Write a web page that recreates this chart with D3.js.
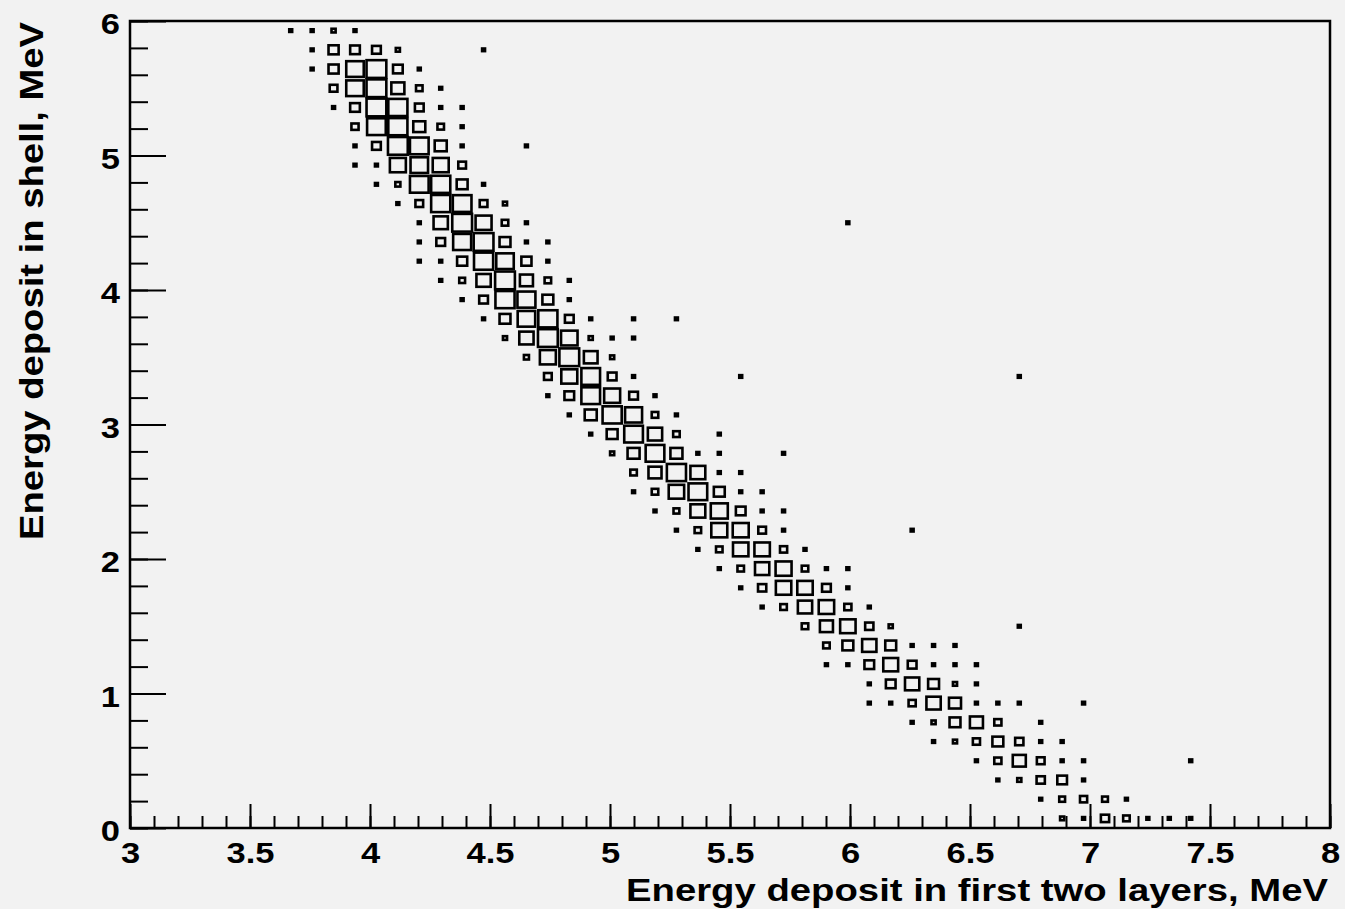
<!DOCTYPE html>
<html><head><meta charset="utf-8">
<script src="https://cdn.jsdelivr.net/npm/d3@7"></script>
<style>
html,body{margin:0;padding:0;background:#f2f2f2;}
svg{display:block}
text{font-family:"Liberation Sans",Arial,Helvetica,sans-serif;font-weight:bold;fill:#000}
</style></head><body>
<svg id="chart" width="1345" height="909"></svg>
<script>
// ---- histogram definition ----
const xRange = [3, 8];
const yRange = [0, 6];
const nBinsX = 56;
const nBinsY = 42;

// band rows: y bin index, first x bin index, counts for consecutive x bins
const rowBinY = [41,40,39,38,37,36,35,34,33,32,31,30,29,28,27,26,25,24,23,22,21,20,19,18,17,16,15,14,13,12,11,10,9,8,7,6,5,4,3,2,1,0];
const rowFirstBinX = [7,8,8,9,9,10,10,10,11,12,13,13,13,14,15,16,17,18,19,19,20,21,22,23,23,24,25,26,27,28,29,31,32,32,34,34,36,37,39,40,42,43];
const rowCounts = [
  [1,1,2,1],
  [1,12,11,9,2],
  [1,12,36,46,11,1],
  [7,36,46,20,5,1],
  [1,11,46,43,9,1,1],
  [6,41,43,17,5,1],
  [1,9,46,41,17,1],
  [1,1,30,36,30,7],
  [1,3,41,43,14,1],
  [1,7,43,41,7,2],
  [1,24,46,30,5,1],
  [1,9,38,46,14,1,1],
  [1,1,12,43,36,12,1],
  [1,4,24,46,20,5,1],
  [1,9,43,38,14,1],
  [1,14,36,43,9,1],
  [2,24,46,32,2,1,1],
  [3,30,46,22,2],
  [7,30,41,9,1],
  [1,11,41,30,9,1],
  [1,17,43,34,5,1],
  [1,14,41,24,5,0,1],
  [2,17,41,17,1,1],
  [5,20,43,26,1,1],
  [1,5,28,41,14,1,1],
  [1,4,26,34,11,1,1],
  [1,5,30,30,7,1],
  [1,5,28,28,6,1],
  [1,5,24,30,5,1,1],
  [1,8,28,28,9,1],
  [1,5,24,28,6,1],
  [5,20,28,8,2],
  [5,14,24,14,1,1,1],
  [1,1,11,26,9,1,1,1],
  [1,11,24,14,2,1],
  [1,1,6,24,17,1,1,1],
  [1,2,14,20,6],
  [1,2,6,14,8,1,1],
  [1,6,20,7,1,1],
  [1,2,8,11,1],
  [1,4,6,4,1],
  [2,1,8,5,1,1,1]
];
// isolated entries away from the band
const outlierBinX = [16,18,33,23,25,28,41,30,36,41,44,42,49];
const outlierBinY = [40,35,31,26,26,23,23,19,15,10,6,5,3];
const outlierCounts = [1,1,1,1,1,1,1,1,1,1,1,1,1];

const xMajorTicks = [3,3.5,4,4.5,5,5.5,6,6.5,7,7.5,8];
const xTickLabels = ["3","3.5","4","4.5","5","5.5","6","6.5","7","7.5","8"];
const yMajorTicks = [0,1,2,3,4,5,6];
const yTickLabels = ["0","1","2","3","4","5","6"];
const xTitle = "Energy deposit in first two layers, MeV";
const yTitle = "Energy deposit in shell, MeV";
const zFull = 54; // content giving a box that fills the bin

// ---- build cells ----
const cells = [];
rowBinY.forEach((j, r) => {
  rowCounts[r].forEach((c, i) => { if (c > 0) cells.push({ix: rowFirstBinX[r] + i, iy: j, c}); });
});
outlierBinX.forEach((ix, i) => cells.push({ix, iy: outlierBinY[i], c: outlierCounts[i]}));

// ---- drawing ----
const svg = d3.select("#chart");
const L = 130, R = 1330, T = 21, B = 828;
const x = d3.scaleLinear().domain(xRange).range([L, R]);
const y = d3.scaleLinear().domain(yRange).range([B, T]);
const bwX = (xRange[1] - xRange[0]) / nBinsX;
const bwY = (yRange[1] - yRange[0]) / nBinsY;
const f = d3.scaleSqrt().domain([0, zFull]).range([0, 1]);

svg.append("rect").attr("x", 0).attr("y", 0).attr("width", 1345).attr("height", 909).attr("fill", "#f2f2f2");

const gBoxes = svg.append("g");
gBoxes.selectAll("rect").data(cells).enter().append("rect")
  .each(function(d) {
    const x0 = x(xRange[0] + d.ix * bwX), x1 = x(xRange[0] + (d.ix + 1) * bwX);
    const y0 = y(yRange[0] + (d.iy + 1) * bwY), y1 = y(yRange[0] + d.iy * bwY);
    const fr = f(d.c);
    const w = (x1 - x0) * fr, h = (y1 - y0) * fr;
    const cx = (x0 + x1) / 2, cy = (y0 + y1) / 2;
    d3.select(this).attr("x", cx - w / 2).attr("y", cy - h / 2).attr("width", w).attr("height", h);
  })
  .attr("fill", "none").attr("stroke", "#000").attr("stroke-width", 2.6);

// minor ticks
const xMinor = d3.range(0, 51).map(i => +(xRange[0] + i * 0.1).toFixed(2));
const yMinor = d3.range(0, 31).map(i => +(yRange[0] + i * 0.2).toFixed(2));

const gxMinor = svg.append("g").attr("transform", `translate(0,${B})`)
  .call(d3.axisBottom(x).tickValues(xMinor).tickSize(-12).tickFormat(""));
const gx = svg.append("g").attr("transform", `translate(0,${B})`)
  .call(d3.axisBottom(x).tickValues(xMajorTicks).tickSize(-24).tickPadding(14)
    .tickFormat((d, i) => xTickLabels[i]));
const gyMinor = svg.append("g").attr("transform", `translate(${L},0)`)
  .call(d3.axisLeft(y).tickValues(yMinor).tickSize(-18).tickFormat(""));
const gy = svg.append("g").attr("transform", `translate(${L},0)`)
  .call(d3.axisLeft(y).tickValues(yMajorTicks).tickSize(-36).tickPadding(10)
    .tickFormat((d, i) => yTickLabels[i]));

[gxMinor, gx, gyMinor, gy].forEach(g => {
  g.select(".domain").remove();
  g.selectAll(".tick line").attr("stroke", "#000").attr("stroke-width", 2);
});
[gx, gy].forEach(g => {
  g.selectAll(".tick text")
    .attr("fill", "#000")
    .style("font-size", "30px")
    .style("font-family", '"Liberation Sans", Arial, sans-serif')
    .style("font-weight", "bold")
    .each(function() {
      const w = this.getComputedTextLength();
      d3.select(this).attr("textLength", w * 1.15).attr("lengthAdjust", "spacingAndGlyphs");
    });
});
gy.selectAll(".tick text").attr("dy", "0.42em");

// frame
svg.append("rect").attr("x", L).attr("y", T).attr("width", R - L).attr("height", B - T)
  .attr("fill", "none").attr("stroke", "#000").attr("stroke-width", 2.5);

// titles
svg.append("text").attr("x", 1328).attr("y", 901).attr("text-anchor", "end")
  .style("font-size", "31px").attr("textLength", 702).attr("lengthAdjust", "spacingAndGlyphs")
  .text(xTitle);
svg.append("text").attr("transform", "translate(43,22) rotate(-90)").attr("text-anchor", "end")
  .style("font-size", "33px").attr("textLength", 518).attr("lengthAdjust", "spacingAndGlyphs")
  .text(yTitle);
</script>
</body></html>
